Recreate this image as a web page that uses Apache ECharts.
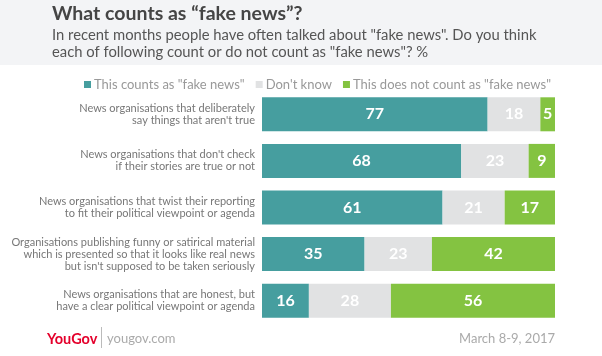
<!DOCTYPE html>
<html><head><meta charset="utf-8">
<script src="https://cdn.jsdelivr.net/npm/echarts@6/dist/echarts.min.js"></script>
<style>html,body{margin:0;padding:0;background:#fff}#c{width:602px;height:356px}</style>
</head><body><div id="c"></div>
<script>
const categories = [
  "News organisations that deliberately\nsay things that aren't true",
  "News organisations that don't check\nif their stories are true or not",
  "News organisations that twist their reporting\nto fit their political viewpoint or agenda",
  "Organisations publishing funny or satirical material\nwhich is presented so that it looks like real news\nbut isn't supposed to be taken seriously",
  "News organisations that are honest, but\nhave a clear political viewpoint or agenda"
];
const seriesNames = ['This counts as "fake news"', "Don't know", 'This does not count as "fake news"'];
const counts = [77, 68, 61, 35, 16];
const dontKnow = [18, 23, 21, 23, 28];
const notCount = [5, 9, 17, 42, 56];
const colors = ["#469e9f", "#e1e2e3", "#84c341"];
const FONT = "Lato";

const raw = [counts, dontKnow, notCount];
const totals = counts.map((v, i) => v + dontKnow[i] + notCount[i]);

const chart = echarts.init(document.getElementById('c'), null, {renderer: 'canvas'});
chart.setOption({
  animation: false,
  textStyle: {fontFamily: FONT},
  graphic: [
    {type: 'rect', left: 0, top: 0, shape: {width: 602, height: 65}, style: {fill: '#f3f4f6'}, z: -10},
    {type: 'text', x: 52, y: 14, style: {text: 'What counts as “fake news”?', font: 'bold 19.5px ' + FONT, fill: '#454545', verticalAlign: 'middle'}},
    {type: 'text', x: 52, y: 35, style: {text: 'In recent months people have often talked about "fake news". Do you think', font: '14.8px ' + FONT, fill: '#555', verticalAlign: 'middle'}},
    {type: 'text', x: 52, y: 52, style: {text: 'each of following count or do not count as "fake news"? %', font: '14.8px ' + FONT, fill: '#555', verticalAlign: 'middle'}},
    {type: 'text', x: 47, y: 339, style: {text: 'YouGov', font: 'bold 14.5px ' + FONT, fill: '#e4002b', verticalAlign: 'middle'}},
    {type: 'rect', x: 101, y: 327, shape: {width: 1, height: 21}, style: {fill: '#bbb'}},
    {type: 'text', x: 107, y: 339, style: {text: 'yougov.com', font: '13px ' + FONT, fill: '#aaa', verticalAlign: 'middle'}},
    {type: 'text', x: 555, y: 339, style: {text: 'March 8-9, 2017', font: '13px ' + FONT, fill: '#aaa', align: 'right', verticalAlign: 'middle'}}
  ],
  legend: {
    top: 73, left: 79,
    icon: 'rect', itemWidth: 7, itemHeight: 7, itemGap: 11,
    textStyle: {fontSize: 13, color: '#999', fontFamily: FONT, padding: [0, 0, 0, -2]},
    data: seriesNames
  },
  grid: {left: 262, right: 47, top: 91, height: 233, containLabel: false, outerBoundsMode: 'none'},
  xAxis: {type: 'value', min: 0, max: 100, show: false},
  yAxis: {
    type: 'category', inverse: true, data: categories,
    axisLine: {show: false}, axisTick: {show: false},
    axisLabel: {fontSize: 11, color: '#777', lineHeight: 12, margin: 7, align: 'right', fontFamily: FONT}
  },
  series: raw.map((arr, s) => ({
    name: seriesNames[s], type: 'bar', stack: 'all', barWidth: 34,
    itemStyle: {color: colors[s]},
    data: arr.map((v, i) => ({value: v / totals[i] * 100, raw: v})),
    label: {
      show: true, position: 'inside', color: '#fff', fontWeight: 'bold', fontSize: 16, fontFamily: FONT,
      formatter: p => p.data.raw
    }
  }))
});
</script></body></html>
